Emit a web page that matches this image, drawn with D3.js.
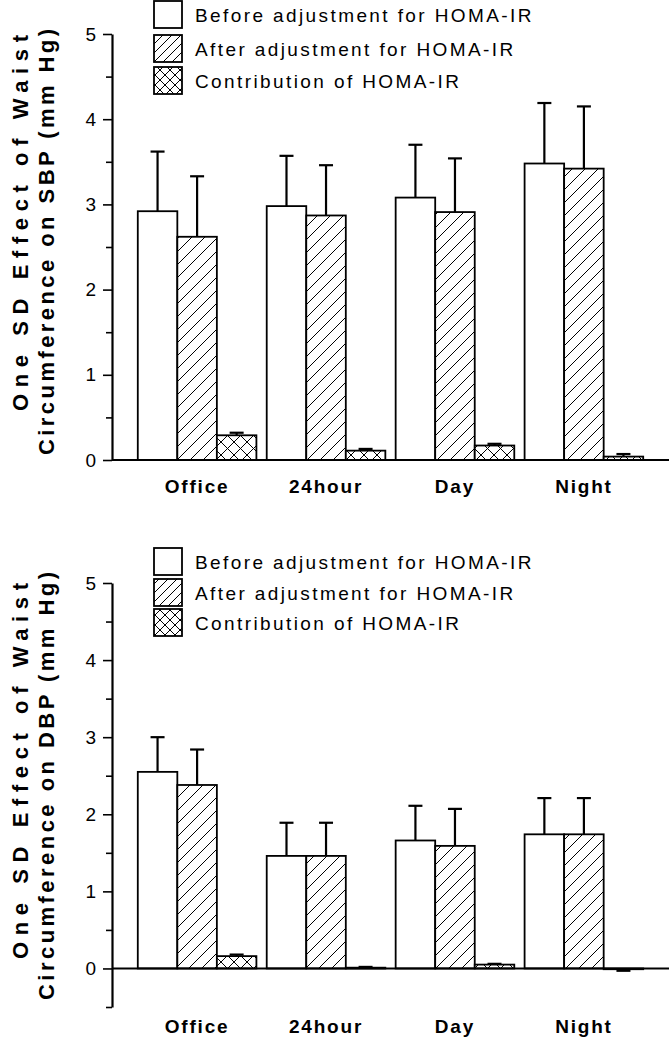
<!DOCTYPE html>
<html>
<head>
<meta charset="utf-8">
<script src="https://cdn.jsdelivr.net/npm/d3@7"></script>
<style>
  body { margin: 0; background: #fff; }
  svg text { font-family: "Liberation Sans", Arial, sans-serif; fill: #000; }
  .tick text { font-size: 19px; }
</style>
</head>
<body>
<div id="chartArea"></div>
<script>
var categories = ["Office", "24hour", "Day", "Night"];
var seriesNames = ["Before adjustment for HOMA-IR", "After adjustment for HOMA-IR", "Contribution of HOMA-IR"];

// SBP panel: values and error (SE) per category
var sbpBefore = [2.92, 2.98, 3.08, 3.48];
var sbpBeforeErr = [0.70, 0.59, 0.62, 0.71];
var sbpAfter = [2.62, 2.87, 2.91, 3.42];
var sbpAfterErr = [0.71, 0.59, 0.63, 0.73];
var sbpContrib = [0.29, 0.11, 0.17, 0.04];
var sbpContribErr = [0.03, 0.02, 0.02, 0.03];

// DBP panel
var dbpBefore = [2.55, 1.46, 1.66, 1.74];
var dbpBeforeErr = [0.45, 0.43, 0.45, 0.47];
var dbpAfter = [2.38, 1.46, 1.59, 1.74];
var dbpAfterErr = [0.46, 0.43, 0.48, 0.47];
var dbpContrib = [0.16, 0.01, 0.05, -0.01];
var dbpContribErr = [0.02, 0.01, 0.01, 0.02];

var yTicks = [0, 1, 2, 3, 4, 5];

var width = 669, height = 1038;

var svg = d3.select("#chartArea").append("svg")
  .attr("width", width)
  .attr("height", height);

var defs = svg.append("defs");

function hatch(id, size, cross) {
  var p = defs.append("pattern")
    .attr("id", id)
    .attr("patternUnits", "userSpaceOnUse")
    .attr("width", size)
    .attr("height", size);
  p.append("rect").attr("width", size).attr("height", size).attr("fill", "#fff");
  var lines = [[0, size, size, 0], [-size / 2, size / 2, size / 2, -size / 2], [size / 2, size * 1.5, size * 1.5, size / 2]];
  if (cross) {
    lines = lines.concat([[0, 0, size, size], [-size / 2, size / 2, size / 2, size * 1.5], [size / 2, -size / 2, size * 1.5, size / 2]]);
  }
  lines.forEach(function (l) {
    p.append("line")
      .attr("x1", l[0]).attr("y1", l[1]).attr("x2", l[2]).attr("y2", l[3])
      .attr("stroke", "#000").attr("stroke-width", 1);
  });
}
hatch("diag", 13, false);
hatch("cross", 13, true);
hatch("diagS", 9, false);
hatch("crossS", 10, true);

var fills = ["#fff", "url(#diag)", "url(#cross)"];
var legendFills = ["#fff", "url(#diagS)", "url(#crossS)"];

function drawPanel(cfg) {
  var x0 = d3.scaleBand()
    .domain(categories)
    .range([112, 669])
    .paddingInner(0.08)
    .paddingOuter(0.2);
  var x1 = d3.scaleBand()
    .domain([0, 1, 2])
    .range([0, x0.bandwidth()]);
  var y = d3.scaleLinear().domain(cfg.domain).range(cfg.range);

  var g = svg.append("g");

  // legend
  var leg = g.append("g");
  seriesNames.forEach(function (name, i) {
    leg.append("rect")
      .attr("x", 154).attr("y", cfg.legendY[i])
      .attr("width", 28).attr("height", 27)
      .attr("fill", legendFills[i])
      .attr("stroke", "#000").attr("stroke-width", 1.8);
    leg.append("text")
      .attr("x", 195).attr("y", cfg.legendY[i] + 14)
      .attr("dy", "0.35em")
      .style("font-size", "19px")
      .style("letter-spacing", "2.4px")
      .text(name);
  });

  var series = [
    { v: cfg.before, e: cfg.beforeErr },
    { v: cfg.after, e: cfg.afterErr },
    { v: cfg.contrib, e: cfg.contribErr }
  ];

  // bars
  series.forEach(function (s, si) {
    var bars = g.append("g");
    bars.selectAll("rect")
      .data(categories)
      .enter()
      .append("rect")
      .attr("x", function (d) { return x0(d) + x1(si); })
      .attr("width", x1.bandwidth())
      .attr("y", function (d, i) { return y(Math.max(0, s.v[i])); })
      .attr("height", function (d, i) { return Math.abs(y(s.v[i]) - y(0)); })
      .attr("fill", fills[si])
      .attr("stroke", "#000")
      .attr("stroke-width", 1.8);

    // error bars (one-sided, away from zero)
    var eb = g.append("g").attr("stroke", "#000").attr("stroke-width", 2.2);
    categories.forEach(function (c, i) {
      var cx = x0(c) + x1(si) + x1.bandwidth() / 2;
      var v = s.v[i];
      var end = v >= 0 ? v + s.e[i] : v - s.e[i];
      eb.append("line")
        .attr("x1", cx).attr("x2", cx)
        .attr("y1", y(v)).attr("y2", y(end));
      eb.append("line")
        .attr("x1", cx - 7).attr("x2", cx + 7)
        .attr("y1", y(end)).attr("y2", y(end));
    });
  });

  // zero line
  g.append("line")
    .attr("x1", 112).attr("x2", 669)
    .attr("y1", y(0)).attr("y2", y(0))
    .attr("stroke", "#000").attr("stroke-width", 2);

  // y axis
  var yAxis = d3.axisLeft(y)
    .tickValues(yTicks)
    .tickSize(9)
    .tickSizeOuter(0)
    .tickPadding(7)
    .tickFormat(d3.format("d"));
  var ax = g.append("g")
    .attr("class", "axis axis--y")
    .attr("transform", "translate(112,0)")
    .call(yAxis);
  ax.select(".domain").attr("stroke-width", 2.2);
  ax.selectAll(".tick line").attr("stroke-width", 1.6);

  var minor = d3.range(cfg.domain[0] < 0 ? -0.5 : 0.5, 5, 1);
  var mAx = g.append("g")
    .attr("transform", "translate(112,0)")
    .call(d3.axisLeft(y).tickValues(minor).tickSize(6).tickFormat(""));
  mAx.select(".domain").remove();
  mAx.selectAll(".tick line").attr("stroke-width", 1.6);

  // category labels
  g.append("g").selectAll("text")
    .data(categories)
    .enter()
    .append("text")
    .attr("x", function (d) { return x0(d) + x0.bandwidth() / 2; })
    .attr("y", cfg.labelY)
    .attr("text-anchor", "middle")
    .attr("dy", "0.35em")
    .style("font-size", "19px")
    .style("font-weight", "bold")
    .style("letter-spacing", "1.8px")
    .text(function (d) { return d; });

  // y title, two rotated lines
  cfg.title.forEach(function (t, i) {
    g.append("text")
      .attr("transform", "translate(" + cfg.titleX[i] + "," + cfg.titleY[i] + ") rotate(-90)")
      .attr("text-anchor", "middle")
      .attr("dy", "0.35em")
      .attr("textLength", cfg.titleLen[i])
      .attr("lengthAdjust", "spacing")
      .style("font-size", "22px")
      .style("font-weight", "bold")
      .text(t);
  });
}

drawPanel({
  domain: [0, 5], range: [460, 34],
  legendY: [1, 35, 67],
  before: sbpBefore, beforeErr: sbpBeforeErr,
  after: sbpAfter, afterErr: sbpAfterErr,
  contrib: sbpContrib, contribErr: sbpContribErr,
  labelY: 486,
  titleX: [20, 46],
  titleY: [223, 242],
  titleLen: [376, 426],
  title: ["One SD Effect of Waist", "Circumference on SBP (mm Hg)"]
});

drawPanel({
  domain: [-0.5, 5], range: [1007, 583],
  legendY: [548, 579, 609],
  before: dbpBefore, beforeErr: dbpBeforeErr,
  after: dbpAfter, afterErr: dbpAfterErr,
  contrib: dbpContrib, contribErr: dbpContribErr,
  labelY: 1026,
  titleX: [20, 46],
  titleY: [771, 786],
  titleLen: [376, 428],
  title: ["One SD Effect of Waist", "Circumference on DBP (mm Hg)"]
});
</script>
</body>
</html>
